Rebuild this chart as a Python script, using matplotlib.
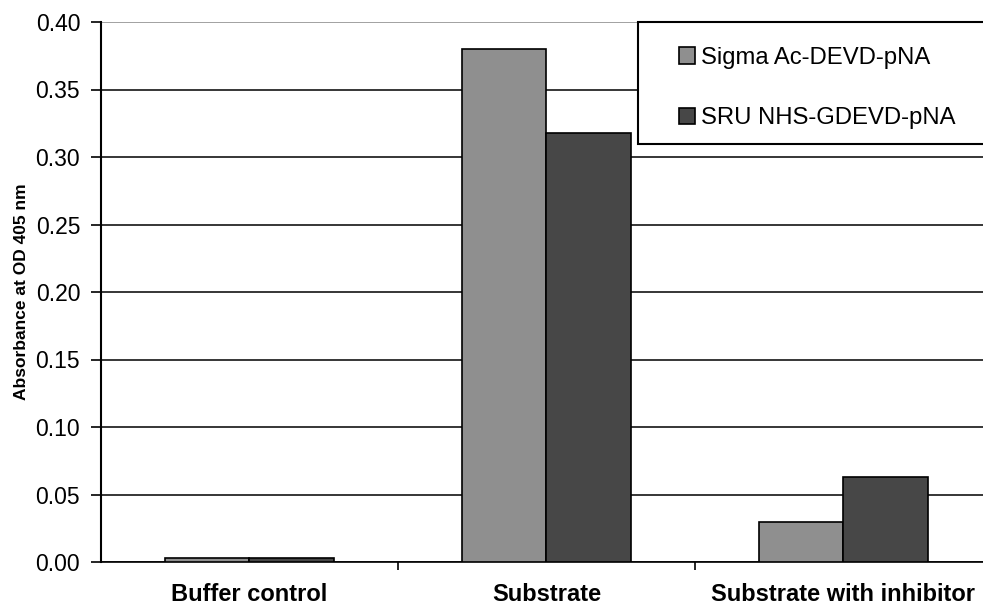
import matplotlib.pyplot as plt
import numpy as np
from matplotlib.patches import Rectangle

categories = ['Buffer control', 'Substrate', 'Substrate with inhibitor']
series_names = ['Sigma Ac-DEVD-pNA', 'SRU NHS-GDEVD-pNA']
sigma_vals = [0.003, 0.380, 0.030]
sru_vals = [0.003, 0.318, 0.063]
y_ticks = [0.00, 0.05, 0.10, 0.15, 0.20, 0.25, 0.30, 0.35, 0.40]

plt.rcParams['font.family'] = ['Liberation Sans', 'DejaVu Sans']

W, H = 983, 608
fig = plt.figure(figsize=(W / 100, H / 100), dpi=100)
# axes run a little past the right edge of the picture, like the original crop
ax = fig.add_axes([101 / W, 1 - 562 / H, (992 - 101) / W, (562 - 22) / H])

x = np.arange(len(categories))
bw = 0.286
ax.bar(x - bw / 2, sigma_vals, bw, color='#8f8f8f', edgecolor='black', linewidth=1.2,
       label=series_names[0], zorder=3)
ax.bar(x + bw / 2, sru_vals, bw, color='#474747', edgecolor='black', linewidth=1.2,
       label=series_names[1], zorder=3)

ax.set_xlim(-0.5, len(categories) - 0.5)
ax.set_ylim(0, 0.40)
ax.set_yticks(y_ticks)
ax.set_yticklabels(['%.2f' % v for v in y_ticks], fontsize=16.5)
ax.yaxis.grid(True, color='black', linewidth=1.1, zorder=0)
ax.set_axisbelow(True)
ax.get_ygridlines()[-1].set_color('#888888')

ax.set_xticks(x)
ax.set_xticklabels(categories, fontsize=17, fontweight='bold')
ax.tick_params(axis='x', which='major', length=0, pad=15)
ax.set_xticks(np.arange(len(categories)) + 0.5, minor=True)
ax.tick_params(axis='x', which='minor', length=6, width=1.2, direction='out')
ax.tick_params(axis='y', length=7, width=1.2, direction='out', pad=8)

for s in ['top', 'right']:
    ax.spines[s].set_visible(False)
ax.spines['left'].set_linewidth(1.5)
ax.spines['bottom'].set_linewidth(1.2)

ax.set_ylabel('Absorbance at OD 405 nm', fontsize=12.5, fontweight='bold', labelpad=5)

# legend box (runs past right edge)
box = Rectangle((638 / W, 1 - 144 / H), (1000 - 638) / W, (144 - 22) / H,
                transform=fig.transFigure, facecolor='white', edgecolor='black',
                linewidth=1.5, zorder=5)
fig.patches.append(box)
leg = fig.legend(loc='upper left', bbox_to_anchor=(679 / W, 1 - 47 / H), frameon=False,
                 fontsize=17.2, handlelength=0.68, handleheight=0.68, handletextpad=0.25,
                 labelspacing=1.6, borderpad=0, borderaxespad=0)
leg.set_zorder(6)

fig.savefig('out.png', dpi=100)
